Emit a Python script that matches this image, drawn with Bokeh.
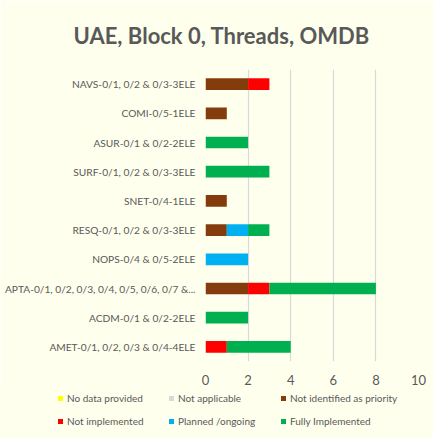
from bokeh.plotting import figure
from bokeh.layouts import column
from bokeh.models import Range1d, FactorRange, Div
from bokeh.embed import file_html
from bokeh.resources import INLINE

# ---- data (bottom to top) ----
categories = [
    "AMET-0/1, 0/2, 0/3 & 0/4-4ELE",
    "ACDM-0/1 & 0/2-2ELE",
    "APTA-0/1, 0/2, 0/3, 0/4, 0/5, 0/6, 0/7 &...",
    "NOPS-0/4 & 0/5-2ELE",
    "RESQ-0/1, 0/2 & 0/3-3ELE",
    "SNET-0/4-1ELE",
    "SURF-0/1, 0/2 & 0/3-3ELE",
    "ASUR-0/1 & 0/2-2ELE",
    "COMI-0/5-1ELE",
    "NAVS-0/1, 0/2 & 0/3-3ELE",
]
no_data_provided = [0, 0, 0, 0, 0, 0, 0, 0, 0, 0]
not_applicable = [0, 0, 0, 0, 0, 0, 0, 0, 0, 0]
not_identified = [0, 0, 2, 0, 1, 1, 0, 0, 1, 2]
not_implemented = [1, 0, 1, 0, 0, 0, 0, 0, 0, 1]
planned_ongoing = [0, 0, 0, 2, 1, 0, 0, 0, 0, 0]
fully_implemented = [3, 2, 5, 0, 1, 0, 3, 2, 0, 0]

series_keys = ["nd", "na", "ni", "nimp", "po", "fi"]
series_labels = ["No data provided", "Not applicable", "Not identified as priority",
                 "Not implemented", "Planned /ongoing", "Fully Implemented"]
series_colors = ["#FFFF00", "#D9D9D9", "#843C0C", "#FF0000", "#00B0F0", "#00B050"]
x_ticks = [0, 2, 4, 6, 8, 10]

BG = "#FFFFEE"
TXT = "#595959"
FONT = "Lato"

data = dict(cat=categories, nd=no_data_provided, na=not_applicable, ni=not_identified,
            nimp=not_implemented, po=planned_ongoing, fi=fully_implemented)

# ---- main chart ----
p = figure(width=433, height=388, frame_width=213, frame_height=292,
           y_range=FactorRange(*categories, range_padding=0),
           x_range=Range1d(0, 10), output_backend="svg", toolbar_location=None,
           title="UAE, Block 0, Threads, OMDB",
           min_border_left=205, min_border_right=15, min_border_top=67, min_border_bottom=29)
p.background_fill_color = BG
p.border_fill_color = BG
p.outline_line_color = None

p.title.align = "left"
p.title.offset = -132
p.title.vertical_align = "middle"
p.title.standoff = 40
p.title.text_font = FONT
p.title.text_font_style = "bold"
p.title.text_font_size = "22px"
p.title.text_color = TXT

rs = p.hbar_stack(series_keys, y="cat", height=0.4, color=series_colors, line_color=None, source=data)

p.ygrid.grid_line_color = None
p.xgrid.grid_line_color = "#D9D9D9"
p.xgrid.grid_line_width = 1.2
p.xaxis.ticker = x_ticks
p.xaxis.axis_line_color = None
p.xaxis.major_tick_line_color = None
p.xaxis.minor_tick_line_color = None
p.xaxis.major_tick_out = 0
p.xaxis.major_label_standoff = 13
p.xaxis.major_label_text_font = FONT
p.xaxis.major_label_text_font_size = "13px"
p.xaxis.major_label_text_color = TXT
p.yaxis.axis_line_color = None
p.yaxis.major_tick_line_color = None
p.yaxis.minor_tick_line_color = None
p.yaxis.major_tick_out = 0
p.yaxis.major_label_standoff = 10
p.yaxis.major_label_text_font = FONT
p.yaxis.major_label_text_font_size = "10.2px"
p.yaxis.major_label_text_color = TXT

# ---- legend strip below the chart (2 rows x 3 columns) ----
col_x = [58, 169, 281]
row_cy = [8.7, 31.7]
parts = []
for i, (lab, col) in enumerate(zip(series_labels, series_colors)):
    x = col_x[i % 3]
    cy = row_cy[i // 3]
    parts.append(
        f'<div style="position:absolute;left:{x}px;top:{cy - 2.5}px;width:5px;height:5px;'
        f'background:{col};"></div>'
        f'<div style="position:absolute;left:{x + 9}px;top:{cy - 6.5}px;line-height:13px;'
        f'white-space:nowrap;">{lab}</div>'
    )
legend_html = (
    f'<div style="position:relative;width:433px;height:50px;background:{BG};'
    f'font-family:{FONT};font-size:10px;color:{TXT};">' + "".join(parts) + "</div>"
)
legend_div = Div(text=legend_html, width=433, height=50, margin=(0, 0, 0, 0))

open("out.html", "w").write(file_html(column(p, legend_div, spacing=0), INLINE))
